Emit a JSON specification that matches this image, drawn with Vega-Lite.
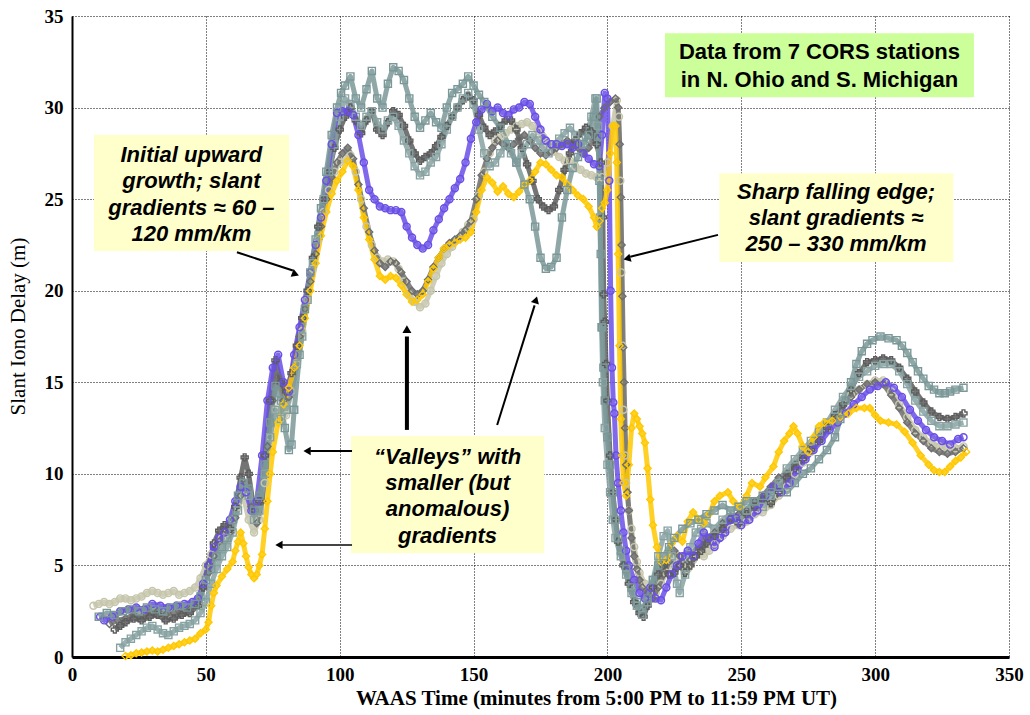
{
"$schema":"https://vega.github.io/schema/vega-lite/v6.json",
"autosize":{"type":"none"},
"padding":{"left":72,"top":16,"right":21,"bottom":58},
"width":937,"height":641,
"background":"white",
"config":{"view":{"stroke":null}},
"datasets":{"iono":[
{"s":"K","t":8,"v":2.8},{"s":"K","t":10,"v":2.9},{"s":"K","t":12,"v":3.0},{"s":"K","t":14,"v":2.9},{"s":"K","t":16,"v":3.0},{"s":"K","t":18,"v":3.2},{"s":"K","t":20,"v":3.2},{"s":"K","t":22,"v":3.1},{"s":"K","t":24,"v":3.2},{"s":"K","t":26,"v":3.3},{"s":"K","t":28,"v":3.5},{"s":"K","t":30,"v":3.6},{"s":"K","t":32,"v":3.5},{"s":"K","t":34,"v":3.4},{"s":"K","t":36,"v":3.5},{"s":"K","t":38,"v":3.6},{"s":"K","t":40,"v":3.4},{"s":"K","t":42,"v":3.5},{"s":"K","t":44,"v":3.6},{"s":"K","t":46,"v":3.8},{"s":"K","t":48,"v":4.3},{"s":"K","t":50,"v":5.0},{"s":"K","t":52,"v":5.6},{"s":"K","t":54,"v":6.2},{"s":"K","t":56,"v":6.5},{"s":"K","t":58,"v":6.8},{"s":"K","t":60,"v":7.5},{"s":"K","t":62,"v":8.2},{"s":"K","t":64,"v":8.8},{"s":"K","t":66,"v":7.5},{"s":"K","t":68,"v":6.8},{"s":"K","t":70,"v":7.5},{"s":"K","t":72,"v":9.5},{"s":"K","t":74,"v":12.0},{"s":"K","t":76,"v":13.5},{"s":"K","t":78,"v":13.0},{"s":"K","t":80,"v":13.2},{"s":"K","t":82,"v":14.5},{"s":"K","t":84,"v":16.0},{"s":"K","t":86,"v":17.8},{"s":"K","t":88,"v":19.5},{"s":"K","t":90,"v":21.2},{"s":"K","t":92,"v":22.8},{"s":"K","t":94,"v":24.3},{"s":"K","t":96,"v":25.5},{"s":"K","t":98,"v":26.5},{"s":"K","t":100,"v":27.0},{"s":"K","t":102,"v":27.2},{"s":"K","t":104,"v":27.4},{"s":"K","t":106,"v":26.5},{"s":"K","t":108,"v":25.0},{"s":"K","t":110,"v":23.5},{"s":"K","t":112,"v":22.5},{"s":"K","t":114,"v":21.8},{"s":"K","t":116,"v":21.6},{"s":"K","t":118,"v":21.7},{"s":"K","t":120,"v":21.6},{"s":"K","t":122,"v":21.2},{"s":"K","t":124,"v":20.5},{"s":"K","t":126,"v":19.8},{"s":"K","t":128,"v":19.4},{"s":"K","t":130,"v":19.1},{"s":"K","t":132,"v":19.3},{"s":"K","t":134,"v":20.0},{"s":"K","t":136,"v":20.8},{"s":"K","t":138,"v":21.5},{"s":"K","t":140,"v":22.0},{"s":"K","t":142,"v":22.4},{"s":"K","t":144,"v":22.8},{"s":"K","t":146,"v":23.2},{"s":"K","t":148,"v":23.6},{"s":"K","t":150,"v":23.9},{"s":"K","t":152,"v":25.2},{"s":"K","t":154,"v":26.5},{"s":"K","t":156,"v":27.5},{"s":"K","t":158,"v":28.2},{"s":"K","t":160,"v":28.4},{"s":"K","t":162,"v":28.6},{"s":"K","t":164,"v":28.8},{"s":"K","t":166,"v":29.0},{"s":"K","t":168,"v":29.1},{"s":"K","t":170,"v":29.2},{"s":"K","t":172,"v":29.0},{"s":"K","t":174,"v":28.7},{"s":"K","t":176,"v":28.4},{"s":"K","t":178,"v":28.0},{"s":"K","t":180,"v":27.6},{"s":"K","t":182,"v":27.3},{"s":"K","t":184,"v":27.1},{"s":"K","t":186,"v":27.1},{"s":"K","t":188,"v":26.8},{"s":"K","t":190,"v":26.6},{"s":"K","t":192,"v":26.4},{"s":"K","t":194,"v":26.3},{"s":"K","t":196,"v":26.2},{"s":"K","t":198,"v":26.2},{"s":"K","t":200,"v":27.0},{"s":"K","t":202,"v":29.0},{"s":"K","t":203.5,"v":30.4},{"s":"K","t":204.3,"v":29.5},{"s":"K","t":204.8,"v":26},{"s":"K","t":205.2,"v":21},{"s":"K","t":205.6,"v":17},{"s":"K","t":206,"v":13.5},{"s":"K","t":206.5,"v":11},{"s":"K","t":207,"v":9.5},{"s":"K","t":208,"v":8.0},{"s":"K","t":209,"v":7.0},{"s":"K","t":210,"v":6.0},{"s":"K","t":211,"v":5.2},{"s":"K","t":212,"v":4.6},{"s":"K","t":214,"v":4.0},{"s":"K","t":216,"v":3.8},{"s":"K","t":218,"v":3.5},{"s":"K","t":220,"v":4.0},{"s":"K","t":222,"v":4.6},{"s":"K","t":224,"v":5.2},{"s":"K","t":226,"v":5.5},{"s":"K","t":228,"v":5.0},{"s":"K","t":230,"v":4.8},{"s":"K","t":232,"v":5.3},{"s":"K","t":234,"v":5.6},{"s":"K","t":236,"v":5.5},{"s":"K","t":238,"v":5.8},{"s":"K","t":240,"v":6.2},{"s":"K","t":243,"v":6.6},{"s":"K","t":246,"v":7.0},{"s":"K","t":249,"v":7.2},{"s":"K","t":252,"v":7.4},{"s":"K","t":255,"v":7.8},{"s":"K","t":258,"v":7.9},{"s":"K","t":261,"v":8.3},{"s":"K","t":264,"v":8.8},{"s":"K","t":267,"v":9.3},{"s":"K","t":270,"v":10.0},{"s":"K","t":273,"v":10.6},{"s":"K","t":276,"v":11.2},{"s":"K","t":279,"v":11.8},{"s":"K","t":282,"v":12.5},{"s":"K","t":285,"v":13.2},{"s":"K","t":288,"v":13.8},{"s":"K","t":291,"v":14.3},{"s":"K","t":294,"v":14.6},{"s":"K","t":297,"v":14.9},{"s":"K","t":300,"v":15.1},{"s":"K","t":303,"v":15.1},{"s":"K","t":306,"v":14.5},{"s":"K","t":309,"v":13.8},{"s":"K","t":312,"v":13.1},{"s":"K","t":315,"v":12.4},{"s":"K","t":318,"v":12.0},{"s":"K","t":321,"v":11.7},{"s":"K","t":324,"v":11.5},{"s":"K","t":327,"v":11.4},{"s":"K","t":330,"v":11.4},{"s":"K","t":333,"v":11.5},

{"s":"D2","t":14,"v":1.8},{"s":"D2","t":17,"v":2.0},{"s":"D2","t":20,"v":2.1},{"s":"D2","t":23,"v":2.3},{"s":"D2","t":26,"v":2.2},{"s":"D2","t":29,"v":2.4},{"s":"D2","t":32,"v":2.5},{"s":"D2","t":35,"v":2.3},{"s":"D2","t":38,"v":2.4},{"s":"D2","t":41,"v":2.5},{"s":"D2","t":44,"v":2.6},{"s":"D2","t":47,"v":3.0},{"s":"D2","t":49,"v":3.8},{"s":"D2","t":51,"v":4.6},{"s":"D2","t":53,"v":5.5},{"s":"D2","t":55,"v":6.3},{"s":"D2","t":57,"v":7.0},{"s":"D2","t":59,"v":6.8},{"s":"D2","t":61,"v":7.6},{"s":"D2","t":63,"v":8.8},{"s":"D2","t":65,"v":9.5},{"s":"D2","t":67,"v":8.2},{"s":"D2","t":69,"v":7.3},{"s":"D2","t":71,"v":8.5},{"s":"D2","t":73,"v":11.5},{"s":"D2","t":75,"v":14.0},{"s":"D2","t":77,"v":15.3},{"s":"D2","t":79,"v":14.0},{"s":"D2","t":81,"v":14.2},{"s":"D2","t":83,"v":15.8},{"s":"D2","t":85,"v":17.5},{"s":"D2","t":87,"v":19.0},{"s":"D2","t":89,"v":20.5},{"s":"D2","t":91,"v":22.0},{"s":"D2","t":93,"v":23.5},{"s":"D2","t":95,"v":25.0},{"s":"D2","t":97,"v":26.2},{"s":"D2","t":99,"v":27.0},{"s":"D2","t":101,"v":27.5},{"s":"D2","t":103,"v":27.8},{"s":"D2","t":105,"v":27.2},{"s":"D2","t":107,"v":25.8},{"s":"D2","t":109,"v":24.5},{"s":"D2","t":111,"v":23.2},{"s":"D2","t":113,"v":22.2},{"s":"D2","t":115,"v":21.5},{"s":"D2","t":117,"v":21.3},{"s":"D2","t":119,"v":21.6},{"s":"D2","t":121,"v":21.5},{"s":"D2","t":123,"v":21.0},{"s":"D2","t":125,"v":20.5},{"s":"D2","t":127,"v":20.0},{"s":"D2","t":129,"v":19.8},{"s":"D2","t":131,"v":20.0},{"s":"D2","t":133,"v":20.6},{"s":"D2","t":135,"v":21.3},{"s":"D2","t":137,"v":21.8},{"s":"D2","t":139,"v":22.3},{"s":"D2","t":141,"v":22.6},{"s":"D2","t":143,"v":22.8},{"s":"D2","t":145,"v":23.0},{"s":"D2","t":147,"v":23.3},{"s":"D2","t":149,"v":23.8},{"s":"D2","t":151,"v":25.0},{"s":"D2","t":153,"v":26.3},{"s":"D2","t":155,"v":27.2},{"s":"D2","t":157,"v":27.8},{"s":"D2","t":159,"v":28.2},{"s":"D2","t":161,"v":28.0},{"s":"D2","t":163,"v":27.8},{"s":"D2","t":165,"v":28.0},{"s":"D2","t":167,"v":28.3},{"s":"D2","t":169,"v":28.5},{"s":"D2","t":171,"v":28.2},{"s":"D2","t":173,"v":27.8},{"s":"D2","t":175,"v":27.5},{"s":"D2","t":177,"v":27.4},{"s":"D2","t":179,"v":27.6},{"s":"D2","t":181,"v":27.8},{"s":"D2","t":183,"v":28.0},{"s":"D2","t":185,"v":28.2},{"s":"D2","t":187,"v":28.0},{"s":"D2","t":189,"v":27.8},{"s":"D2","t":191,"v":27.5},{"s":"D2","t":193,"v":27.8},{"s":"D2","t":195,"v":28.5},{"s":"D2","t":197,"v":29.5},{"s":"D2","t":199,"v":30.0},{"s":"D2","t":201,"v":30.3},{"s":"D2","t":203,"v":30.5},{"s":"D2","t":204,"v":30.0},{"s":"D2","t":204.6,"v":28},{"s":"D2","t":205,"v":25.1},{"s":"D2","t":205.3,"v":22.5},{"s":"D2","t":205.6,"v":19.7},{"s":"D2","t":205.9,"v":16.9},{"s":"D2","t":206.2,"v":15.0},{"s":"D2","t":206.6,"v":12.5},{"s":"D2","t":207,"v":10.5},{"s":"D2","t":207.5,"v":9.0},{"s":"D2","t":208,"v":8.0},{"s":"D2","t":209,"v":6.5},{"s":"D2","t":210,"v":5.5},{"s":"D2","t":211,"v":4.8},{"s":"D2","t":212,"v":4.2},{"s":"D2","t":213,"v":3.8},{"s":"D2","t":215,"v":3.5},{"s":"D2","t":217,"v":3.2},{"s":"D2","t":219,"v":3.8},{"s":"D2","t":221,"v":4.5},{"s":"D2","t":223,"v":5.2},{"s":"D2","t":225,"v":5.8},{"s":"D2","t":227,"v":5.5},{"s":"D2","t":229,"v":5.0},{"s":"D2","t":231,"v":5.3},{"s":"D2","t":233,"v":5.8},{"s":"D2","t":235,"v":6.0},{"s":"D2","t":237,"v":6.5},{"s":"D2","t":240,"v":6.8},{"s":"D2","t":243,"v":7.3},{"s":"D2","t":246,"v":7.6},{"s":"D2","t":249,"v":7.8},{"s":"D2","t":252,"v":8.0},{"s":"D2","t":255,"v":8.5},{"s":"D2","t":258,"v":8.8},{"s":"D2","t":261,"v":9.3},{"s":"D2","t":264,"v":9.8},{"s":"D2","t":267,"v":10.0},{"s":"D2","t":270,"v":10.5},{"s":"D2","t":273,"v":11.0},{"s":"D2","t":276,"v":11.5},{"s":"D2","t":279,"v":12.0},{"s":"D2","t":282,"v":12.6},{"s":"D2","t":285,"v":13.2},{"s":"D2","t":288,"v":13.7},{"s":"D2","t":291,"v":14.2},{"s":"D2","t":294,"v":14.6},{"s":"D2","t":297,"v":14.9},{"s":"D2","t":300,"v":15.0},{"s":"D2","t":303,"v":14.9},{"s":"D2","t":306,"v":14.3},{"s":"D2","t":309,"v":13.6},{"s":"D2","t":312,"v":12.8},{"s":"D2","t":315,"v":12.2},{"s":"D2","t":318,"v":11.8},{"s":"D2","t":321,"v":11.4},{"s":"D2","t":324,"v":11.2},{"s":"D2","t":327,"v":11.1},{"s":"D2","t":330,"v":11.2},{"s":"D2","t":333,"v":11.4},

{"s":"D1","t":16,"v":1.5},{"s":"D1","t":18,"v":1.7},{"s":"D1","t":20,"v":1.9},{"s":"D1","t":23,"v":2.1},{"s":"D1","t":26,"v":2.0},{"s":"D1","t":29,"v":2.2},{"s":"D1","t":32,"v":2.3},{"s":"D1","t":35,"v":2.0},{"s":"D1","t":38,"v":2.1},{"s":"D1","t":41,"v":2.3},{"s":"D1","t":44,"v":2.4},{"s":"D1","t":47,"v":2.8},{"s":"D1","t":49,"v":3.8},{"s":"D1","t":51,"v":5.0},{"s":"D1","t":53,"v":6.2},{"s":"D1","t":55,"v":6.9},{"s":"D1","t":57,"v":7.2},{"s":"D1","t":59,"v":7.0},{"s":"D1","t":61,"v":8.2},{"s":"D1","t":63,"v":9.8},{"s":"D1","t":64.5,"v":10.9},{"s":"D1","t":66,"v":10.0},{"s":"D1","t":68,"v":8.0},{"s":"D1","t":70,"v":8.5},{"s":"D1","t":72,"v":11.0},{"s":"D1","t":74,"v":14.0},{"s":"D1","t":76,"v":16.2},{"s":"D1","t":78,"v":15.0},{"s":"D1","t":80,"v":14.5},{"s":"D1","t":82,"v":15.5},{"s":"D1","t":84,"v":17.0},{"s":"D1","t":86,"v":18.5},{"s":"D1","t":88,"v":20.0},{"s":"D1","t":90,"v":21.8},{"s":"D1","t":92,"v":23.5},{"s":"D1","t":94,"v":25.0},{"s":"D1","t":96,"v":26.5},{"s":"D1","t":98,"v":27.8},{"s":"D1","t":100,"v":28.8},{"s":"D1","t":102,"v":29.5},{"s":"D1","t":104,"v":30.0},{"s":"D1","t":106,"v":29.3},{"s":"D1","t":108,"v":28.6},{"s":"D1","t":110,"v":29.3},{"s":"D1","t":112,"v":29.8},{"s":"D1","t":114,"v":28.8},{"s":"D1","t":116,"v":28.5},{"s":"D1","t":118,"v":29.2},{"s":"D1","t":120,"v":29.8},{"s":"D1","t":122,"v":29.6},{"s":"D1","t":124,"v":29.0},{"s":"D1","t":126,"v":28.2},{"s":"D1","t":128,"v":27.5},{"s":"D1","t":130,"v":27.1},{"s":"D1","t":132,"v":27.3},{"s":"D1","t":134,"v":27.5},{"s":"D1","t":136,"v":27.9},{"s":"D1","t":138,"v":28.4},{"s":"D1","t":140,"v":29.0},{"s":"D1","t":142,"v":29.5},{"s":"D1","t":144,"v":30.0},{"s":"D1","t":146,"v":30.4},{"s":"D1","t":148,"v":30.6},{"s":"D1","t":150,"v":30.4},{"s":"D1","t":152,"v":29.6},{"s":"D1","t":154,"v":28.9},{"s":"D1","t":156,"v":28.5},{"s":"D1","t":158,"v":28.7},{"s":"D1","t":160,"v":29.0},{"s":"D1","t":162,"v":29.3},{"s":"D1","t":164,"v":29.3},{"s":"D1","t":166,"v":28.8},{"s":"D1","t":168,"v":27.8},{"s":"D1","t":170,"v":26.9},{"s":"D1","t":172,"v":26.0},{"s":"D1","t":174,"v":25.0},{"s":"D1","t":176,"v":24.6},{"s":"D1","t":178,"v":24.4},{"s":"D1","t":180,"v":24.6},{"s":"D1","t":182,"v":25.5},{"s":"D1","t":184,"v":26.6},{"s":"D1","t":186,"v":27.5},{"s":"D1","t":188,"v":28.2},{"s":"D1","t":190,"v":28.6},{"s":"D1","t":192,"v":28.9},{"s":"D1","t":194,"v":28.7},{"s":"D1","t":196,"v":28.0},{"s":"D1","t":197.5,"v":27.0},{"s":"D1","t":198.3,"v":24},{"s":"D1","t":198.6,"v":19.8},{"s":"D1","t":199,"v":18.3},{"s":"D1","t":199.5,"v":16},{"s":"D1","t":200,"v":14},{"s":"D1","t":201,"v":11},{"s":"D1","t":202,"v":9},{"s":"D1","t":203,"v":7.5},{"s":"D1","t":204,"v":6.3},{"s":"D1","t":206,"v":5.0},{"s":"D1","t":208,"v":4.0},{"s":"D1","t":210,"v":3.0},{"s":"D1","t":212,"v":2.4},{"s":"D1","t":213.5,"v":2.2},{"s":"D1","t":215,"v":2.8},{"s":"D1","t":217,"v":3.8},{"s":"D1","t":219,"v":4.5},{"s":"D1","t":221,"v":5.0},{"s":"D1","t":223,"v":4.5},{"s":"D1","t":225,"v":4.6},{"s":"D1","t":227,"v":5.0},{"s":"D1","t":229,"v":4.6},{"s":"D1","t":231,"v":5.0},{"s":"D1","t":233,"v":5.5},{"s":"D1","t":235,"v":5.8},{"s":"D1","t":237,"v":6.2},{"s":"D1","t":240,"v":6.6},{"s":"D1","t":243,"v":7.0},{"s":"D1","t":246,"v":7.5},{"s":"D1","t":249,"v":7.3},{"s":"D1","t":252,"v":7.8},{"s":"D1","t":255,"v":8.2},{"s":"D1","t":258,"v":8.6},{"s":"D1","t":261,"v":8.4},{"s":"D1","t":264,"v":9.0},{"s":"D1","t":267,"v":9.8},{"s":"D1","t":270,"v":10.3},{"s":"D1","t":273,"v":10.8},{"s":"D1","t":276,"v":11.3},{"s":"D1","t":279,"v":11.8},{"s":"D1","t":282,"v":12.5},{"s":"D1","t":285,"v":13.2},{"s":"D1","t":288,"v":13.8},{"s":"D1","t":291,"v":14.6},{"s":"D1","t":294,"v":15.5},{"s":"D1","t":297,"v":16.1},{"s":"D1","t":300,"v":16.2},{"s":"D1","t":303,"v":16.3},{"s":"D1","t":306,"v":16.2},{"s":"D1","t":309,"v":15.8},{"s":"D1","t":312,"v":15.2},{"s":"D1","t":315,"v":14.5},{"s":"D1","t":318,"v":13.9},{"s":"D1","t":321,"v":13.4},{"s":"D1","t":324,"v":13.1},{"s":"D1","t":327,"v":13.0},{"s":"D1","t":330,"v":13.1},{"s":"D1","t":333,"v":13.3},

{"s":"T2","t":18,"v":0.5},{"s":"T2","t":20,"v":0.8},{"s":"T2","t":22,"v":1.0},{"s":"T2","t":24,"v":1.2},{"s":"T2","t":26,"v":1.4},{"s":"T2","t":28,"v":1.6},{"s":"T2","t":30,"v":1.7},{"s":"T2","t":32,"v":1.5},{"s":"T2","t":34,"v":1.3},{"s":"T2","t":36,"v":1.2},{"s":"T2","t":38,"v":1.4},{"s":"T2","t":40,"v":1.6},{"s":"T2","t":42,"v":1.7},{"s":"T2","t":44,"v":1.8},{"s":"T2","t":46,"v":2.0},{"s":"T2","t":48,"v":2.4},{"s":"T2","t":50,"v":3.0},{"s":"T2","t":52,"v":4.0},{"s":"T2","t":54,"v":4.8},{"s":"T2","t":56,"v":5.5},{"s":"T2","t":58,"v":6.0},{"s":"T2","t":60,"v":6.8},{"s":"T2","t":62,"v":8.0},{"s":"T2","t":64,"v":9.5},{"s":"T2","t":66,"v":8.8},{"s":"T2","t":68,"v":7.5},{"s":"T2","t":70,"v":8.0},{"s":"T2","t":72,"v":10.0},{"s":"T2","t":74,"v":12.0},{"s":"T2","t":76,"v":13.5},{"s":"T2","t":78,"v":13.0},{"s":"T2","t":80,"v":13.5},{"s":"T2","t":82,"v":14.5},{"s":"T2","t":84,"v":16.0},{"s":"T2","t":86,"v":17.5},{"s":"T2","t":88,"v":19.5},{"s":"T2","t":90,"v":21.5},{"s":"T2","t":92,"v":23.0},{"s":"T2","t":94,"v":25.0},{"s":"T2","t":96,"v":26.5},{"s":"T2","t":98,"v":28.0},{"s":"T2","t":100,"v":29.5},{"s":"T2","t":102,"v":30.5},{"s":"T2","t":104,"v":30.2},{"s":"T2","t":106,"v":29.5},{"s":"T2","t":108,"v":29.0},{"s":"T2","t":110,"v":29.5},{"s":"T2","t":112,"v":29.8},{"s":"T2","t":114,"v":29.2},{"s":"T2","t":116,"v":28.8},{"s":"T2","t":118,"v":29.3},{"s":"T2","t":120,"v":29.5},{"s":"T2","t":122,"v":29.0},{"s":"T2","t":124,"v":28.2},{"s":"T2","t":126,"v":27.5},{"s":"T2","t":128,"v":26.8},{"s":"T2","t":130,"v":26.3},{"s":"T2","t":132,"v":26.5},{"s":"T2","t":134,"v":27.0},{"s":"T2","t":136,"v":27.3},{"s":"T2","t":138,"v":28.0},{"s":"T2","t":140,"v":28.8},{"s":"T2","t":142,"v":29.5},{"s":"T2","t":144,"v":30.0},{"s":"T2","t":146,"v":30.5},{"s":"T2","t":148,"v":30.8},{"s":"T2","t":150,"v":30.2},{"s":"T2","t":152,"v":28.8},{"s":"T2","t":154,"v":27.5},{"s":"T2","t":156,"v":26.8},{"s":"T2","t":158,"v":27.0},{"s":"T2","t":160,"v":27.5},{"s":"T2","t":162,"v":28.0},{"s":"T2","t":164,"v":27.5},{"s":"T2","t":166,"v":27.0},{"s":"T2","t":168,"v":27.5},{"s":"T2","t":170,"v":28.0},{"s":"T2","t":172,"v":28.5},{"s":"T2","t":174,"v":28.2},{"s":"T2","t":176,"v":27.8},{"s":"T2","t":178,"v":27.5},{"s":"T2","t":180,"v":28.0},{"s":"T2","t":182,"v":28.3},{"s":"T2","t":184,"v":28.6},{"s":"T2","t":186,"v":28.9},{"s":"T2","t":188,"v":28.5},{"s":"T2","t":190,"v":28.0},{"s":"T2","t":192,"v":28.3},{"s":"T2","t":194,"v":29.5},{"s":"T2","t":195.5,"v":30.5},{"s":"T2","t":196.5,"v":29.0},{"s":"T2","t":197.2,"v":24},{"s":"T2","t":197.8,"v":18.0},{"s":"T2","t":198.3,"v":15.0},{"s":"T2","t":199,"v":12.5},{"s":"T2","t":200,"v":10.5},{"s":"T2","t":201,"v":9.0},{"s":"T2","t":202,"v":7.5},{"s":"T2","t":203,"v":6.5},{"s":"T2","t":205,"v":5.5},{"s":"T2","t":207,"v":4.5},{"s":"T2","t":209,"v":3.5},{"s":"T2","t":211,"v":2.8},{"s":"T2","t":213,"v":2.3},{"s":"T2","t":215,"v":3.0},{"s":"T2","t":217,"v":4.2},{"s":"T2","t":219,"v":5.5},{"s":"T2","t":221,"v":6.6},{"s":"T2","t":222.5,"v":6.9},{"s":"T2","t":224,"v":5.5},{"s":"T2","t":226,"v":4.0},{"s":"T2","t":227,"v":3.5},{"s":"T2","t":229,"v":4.5},{"s":"T2","t":231,"v":6.0},{"s":"T2","t":233,"v":6.8},{"s":"T2","t":235,"v":7.0},{"s":"T2","t":237,"v":7.3},{"s":"T2","t":240,"v":7.0},{"s":"T2","t":243,"v":7.5},{"s":"T2","t":246,"v":7.8},{"s":"T2","t":249,"v":7.5},{"s":"T2","t":252,"v":8.0},{"s":"T2","t":255,"v":8.5},{"s":"T2","t":258,"v":8.2},{"s":"T2","t":261,"v":8.8},{"s":"T2","t":264,"v":9.5},{"s":"T2","t":267,"v":10.3},{"s":"T2","t":270,"v":10.8},{"s":"T2","t":273,"v":11.3},{"s":"T2","t":276,"v":11.8},{"s":"T2","t":279,"v":12.3},{"s":"T2","t":282,"v":12.8},{"s":"T2","t":285,"v":13.5},{"s":"T2","t":288,"v":14.2},{"s":"T2","t":291,"v":14.8},{"s":"T2","t":294,"v":15.3},{"s":"T2","t":297,"v":15.6},{"s":"T2","t":300,"v":15.9},{"s":"T2","t":303,"v":16.0},{"s":"T2","t":306,"v":16.0},{"s":"T2","t":309,"v":15.6},{"s":"T2","t":312,"v":14.9},{"s":"T2","t":315,"v":14.0},{"s":"T2","t":318,"v":13.4},{"s":"T2","t":321,"v":12.9},{"s":"T2","t":324,"v":12.6},{"s":"T2","t":327,"v":12.6},{"s":"T2","t":330,"v":12.7},{"s":"T2","t":333,"v":12.8},

{"s":"P","t":10.5,"v":2.2},{"s":"P","t":12,"v":2.0},{"s":"P","t":15,"v":2.2},{"s":"P","t":18,"v":2.5},{"s":"P","t":21,"v":2.6},{"s":"P","t":24,"v":2.7},{"s":"P","t":27,"v":2.6},{"s":"P","t":30,"v":2.9},{"s":"P","t":33,"v":2.8},{"s":"P","t":36,"v":2.7},{"s":"P","t":39,"v":2.8},{"s":"P","t":42,"v":2.9},{"s":"P","t":45,"v":3.0},{"s":"P","t":47,"v":3.2},{"s":"P","t":49,"v":4.0},{"s":"P","t":51,"v":5.0},{"s":"P","t":53,"v":6.0},{"s":"P","t":55,"v":6.5},{"s":"P","t":57,"v":6.8},{"s":"P","t":59,"v":7.5},{"s":"P","t":61,"v":8.5},{"s":"P","t":63,"v":9.3},{"s":"P","t":65,"v":9.0},{"s":"P","t":67,"v":8.0},{"s":"P","t":69,"v":8.5},{"s":"P","t":71,"v":11.0},{"s":"P","t":73,"v":14.0},{"s":"P","t":75,"v":15.8},{"s":"P","t":77,"v":16.5},{"s":"P","t":79,"v":15.0},{"s":"P","t":81,"v":14.5},{"s":"P","t":83,"v":16.5},{"s":"P","t":85,"v":18.0},{"s":"P","t":87,"v":19.5},{"s":"P","t":89,"v":21.0},{"s":"P","t":91,"v":22.5},{"s":"P","t":93,"v":24.0},{"s":"P","t":95,"v":26.0},{"s":"P","t":97,"v":28.0},{"s":"P","t":99,"v":29.7},{"s":"P","t":101,"v":29.8},{"s":"P","t":103,"v":29.8},{"s":"P","t":105,"v":29.6},{"s":"P","t":107,"v":28.5},{"s":"P","t":109,"v":27.0},{"s":"P","t":111,"v":25.5},{"s":"P","t":113,"v":25.0},{"s":"P","t":115,"v":24.6},{"s":"P","t":117,"v":24.5},{"s":"P","t":119,"v":24.4},{"s":"P","t":121,"v":24.4},{"s":"P","t":123,"v":24.3},{"s":"P","t":125,"v":23.5},{"s":"P","t":127,"v":22.9},{"s":"P","t":129,"v":22.5},{"s":"P","t":131,"v":22.3},{"s":"P","t":133,"v":22.5},{"s":"P","t":135,"v":23.3},{"s":"P","t":137,"v":23.9},{"s":"P","t":139,"v":24.5},{"s":"P","t":141,"v":25.0},{"s":"P","t":143,"v":25.6},{"s":"P","t":145,"v":26.1},{"s":"P","t":147,"v":27.0},{"s":"P","t":149,"v":28.3},{"s":"P","t":151,"v":29.2},{"s":"P","t":153,"v":29.9},{"s":"P","t":155,"v":30.2},{"s":"P","t":157,"v":29.8},{"s":"P","t":159,"v":30.0},{"s":"P","t":161,"v":29.7},{"s":"P","t":163,"v":29.6},{"s":"P","t":165,"v":29.9},{"s":"P","t":167,"v":30.0},{"s":"P","t":169,"v":30.3},{"s":"P","t":171,"v":30.2},{"s":"P","t":173,"v":29.5},{"s":"P","t":175,"v":28.8},{"s":"P","t":177,"v":28.2},{"s":"P","t":179,"v":28.0},{"s":"P","t":181,"v":28.0},{"s":"P","t":183,"v":27.9},{"s":"P","t":185,"v":28.0},{"s":"P","t":187,"v":27.8},{"s":"P","t":189,"v":28.0},{"s":"P","t":191,"v":27.5},{"s":"P","t":193,"v":27.2},{"s":"P","t":195,"v":26.9},{"s":"P","t":197,"v":26.8},{"s":"P","t":198,"v":28.5},{"s":"P","t":199,"v":30.8},{"s":"P","t":200,"v":30.5},{"s":"P","t":200.7,"v":26},{"s":"P","t":201.2,"v":20},{"s":"P","t":201.7,"v":15.8},{"s":"P","t":202.2,"v":13.9},{"s":"P","t":202.6,"v":13.3},{"s":"P","t":203.2,"v":11},{"s":"P","t":204,"v":9.5},{"s":"P","t":205,"v":8},{"s":"P","t":206,"v":6.8},{"s":"P","t":207,"v":5.8},{"s":"P","t":208,"v":5.0},{"s":"P","t":210,"v":4.2},{"s":"P","t":212,"v":3.5},{"s":"P","t":214,"v":3.2},{"s":"P","t":216,"v":3.8},{"s":"P","t":218,"v":3.2},{"s":"P","t":220,"v":3.1},{"s":"P","t":222,"v":3.8},{"s":"P","t":224,"v":4.5},{"s":"P","t":226,"v":5.0},{"s":"P","t":228,"v":5.5},{"s":"P","t":230,"v":5.8},{"s":"P","t":232,"v":5.5},{"s":"P","t":234,"v":6.2},{"s":"P","t":236,"v":6.8},{"s":"P","t":238,"v":6.5},{"s":"P","t":240,"v":6.0},{"s":"P","t":242,"v":6.5},{"s":"P","t":244,"v":6.8},{"s":"P","t":246,"v":7.5},{"s":"P","t":248,"v":7.6},{"s":"P","t":250,"v":7.2},{"s":"P","t":253,"v":7.5},{"s":"P","t":256,"v":8.0},{"s":"P","t":259,"v":8.8},{"s":"P","t":262,"v":9.3},{"s":"P","t":265,"v":9.0},{"s":"P","t":268,"v":9.5},{"s":"P","t":271,"v":10.2},{"s":"P","t":274,"v":10.8},{"s":"P","t":277,"v":11.3},{"s":"P","t":280,"v":11.8},{"s":"P","t":283,"v":12.4},{"s":"P","t":286,"v":12.8},{"s":"P","t":289,"v":13.3},{"s":"P","t":292,"v":13.8},{"s":"P","t":295,"v":14.2},{"s":"P","t":298,"v":14.6},{"s":"P","t":301,"v":14.8},{"s":"P","t":304,"v":15.0},{"s":"P","t":307,"v":14.7},{"s":"P","t":310,"v":14.2},{"s":"P","t":313,"v":13.5},{"s":"P","t":316,"v":12.9},{"s":"P","t":319,"v":12.4},{"s":"P","t":322,"v":12.0},{"s":"P","t":325,"v":11.8},{"s":"P","t":328,"v":11.6},{"s":"P","t":331,"v":11.9},{"s":"P","t":333,"v":12.0},

{"s":"Y","t":20,"v":0.05},{"s":"Y","t":22,"v":0.1},{"s":"Y","t":24,"v":0.2},{"s":"Y","t":26,"v":0.25},{"s":"Y","t":28,"v":0.3},{"s":"Y","t":30,"v":0.35},{"s":"Y","t":32,"v":0.3},{"s":"Y","t":34,"v":0.4},{"s":"Y","t":36,"v":0.5},{"s":"Y","t":38,"v":0.6},{"s":"Y","t":40,"v":0.7},{"s":"Y","t":42,"v":0.8},{"s":"Y","t":44,"v":0.9},{"s":"Y","t":46,"v":1.0},{"s":"Y","t":48,"v":1.3},{"s":"Y","t":50,"v":1.5},{"s":"Y","t":51,"v":1.9},{"s":"Y","t":52,"v":2.8},{"s":"Y","t":53,"v":3.5},{"s":"Y","t":54,"v":3.9},{"s":"Y","t":56,"v":4.4},{"s":"Y","t":58,"v":4.8},{"s":"Y","t":60,"v":5.2},{"s":"Y","t":61,"v":5.8},{"s":"Y","t":62,"v":6.3},{"s":"Y","t":63,"v":6.8},{"s":"Y","t":64,"v":6.2},{"s":"Y","t":65,"v":5.5},{"s":"Y","t":66,"v":4.9},{"s":"Y","t":67,"v":4.5},{"s":"Y","t":68,"v":4.3},{"s":"Y","t":69,"v":4.5},{"s":"Y","t":70,"v":5.0},{"s":"Y","t":71,"v":5.6},{"s":"Y","t":72,"v":7.0},{"s":"Y","t":73,"v":8.5},{"s":"Y","t":74,"v":10.0},{"s":"Y","t":75,"v":11.2},{"s":"Y","t":77,"v":12.8},{"s":"Y","t":79,"v":13.8},{"s":"Y","t":81,"v":14.7},{"s":"Y","t":83,"v":15.8},{"s":"Y","t":85,"v":17.0},{"s":"Y","t":87,"v":18.5},{"s":"Y","t":89,"v":20.0},{"s":"Y","t":91,"v":21.5},{"s":"Y","t":93,"v":23.0},{"s":"Y","t":95,"v":24.3},{"s":"Y","t":97,"v":25.3},{"s":"Y","t":99,"v":26.0},{"s":"Y","t":101,"v":26.5},{"s":"Y","t":103,"v":27.1},{"s":"Y","t":105,"v":26.8},{"s":"Y","t":107,"v":25.5},{"s":"Y","t":109,"v":24.0},{"s":"Y","t":111,"v":22.8},{"s":"Y","t":113,"v":21.7},{"s":"Y","t":115,"v":20.8},{"s":"Y","t":117,"v":20.6},{"s":"Y","t":119,"v":20.8},{"s":"Y","t":121,"v":20.7},{"s":"Y","t":123,"v":20.3},{"s":"Y","t":125,"v":19.8},{"s":"Y","t":127,"v":19.4},{"s":"Y","t":129,"v":19.5},{"s":"Y","t":131,"v":19.8},{"s":"Y","t":133,"v":20.5},{"s":"Y","t":135,"v":21.2},{"s":"Y","t":137,"v":21.8},{"s":"Y","t":139,"v":22.3},{"s":"Y","t":141,"v":22.5},{"s":"Y","t":143,"v":22.6},{"s":"Y","t":145,"v":22.8},{"s":"Y","t":147,"v":22.9},{"s":"Y","t":149,"v":23.2},{"s":"Y","t":151,"v":24.3},{"s":"Y","t":153,"v":25.5},{"s":"Y","t":155,"v":26.2},{"s":"Y","t":157,"v":25.9},{"s":"Y","t":159,"v":25.4},{"s":"Y","t":161,"v":25.7},{"s":"Y","t":163,"v":25.3},{"s":"Y","t":165,"v":25.1},{"s":"Y","t":167,"v":25.4},{"s":"Y","t":169,"v":25.8},{"s":"Y","t":171,"v":26.0},{"s":"Y","t":173,"v":26.5},{"s":"Y","t":175,"v":27.0},{"s":"Y","t":177,"v":26.9},{"s":"Y","t":179,"v":26.6},{"s":"Y","t":181,"v":26.3},{"s":"Y","t":183,"v":26.2},{"s":"Y","t":185,"v":25.8},{"s":"Y","t":187,"v":25.5},{"s":"Y","t":189,"v":25.2},{"s":"Y","t":191,"v":25.0},{"s":"Y","t":193,"v":24.6},{"s":"Y","t":195,"v":24.0},{"s":"Y","t":196,"v":23.5},{"s":"Y","t":197,"v":23.8},{"s":"Y","t":198,"v":24.5},{"s":"Y","t":199,"v":24.8},{"s":"Y","t":200,"v":25.5},{"s":"Y","t":201,"v":27.5},{"s":"Y","t":202,"v":29.0},{"s":"Y","t":203,"v":29.0},{"s":"Y","t":203.5,"v":27},{"s":"Y","t":204,"v":22},{"s":"Y","t":204.5,"v":17},{"s":"Y","t":205,"v":13},{"s":"Y","t":205.5,"v":11},{"s":"Y","t":206,"v":9.5},{"s":"Y","t":207,"v":8.8},{"s":"Y","t":208,"v":10.5},{"s":"Y","t":209,"v":12.5},{"s":"Y","t":210,"v":13.3},{"s":"Y","t":211,"v":13.0},{"s":"Y","t":212,"v":12.6},{"s":"Y","t":213,"v":12.2},{"s":"Y","t":214,"v":11.7},{"s":"Y","t":215,"v":10.3},{"s":"Y","t":216,"v":8.6},{"s":"Y","t":217,"v":7.2},{"s":"Y","t":218.5,"v":6.0},{"s":"Y","t":220,"v":5.2},{"s":"Y","t":222,"v":5.3},{"s":"Y","t":224,"v":6.2},{"s":"Y","t":226,"v":6.6},{"s":"Y","t":228,"v":6.3},{"s":"Y","t":230,"v":7.4},{"s":"Y","t":232,"v":7.9},{"s":"Y","t":234,"v":7.5},{"s":"Y","t":236,"v":7.3},{"s":"Y","t":238,"v":7.8},{"s":"Y","t":240,"v":8.5},{"s":"Y","t":242,"v":8.8},{"s":"Y","t":245,"v":9.0},{"s":"Y","t":247,"v":8.5},{"s":"Y","t":249.5,"v":8.2},{"s":"Y","t":252,"v":8.8},{"s":"Y","t":254,"v":9.5},{"s":"Y","t":257,"v":9.3},{"s":"Y","t":259,"v":9.8},{"s":"Y","t":262,"v":10.4},{"s":"Y","t":264,"v":11.2},{"s":"Y","t":266,"v":11.8},{"s":"Y","t":268,"v":12.2},{"s":"Y","t":269.5,"v":12.6},{"s":"Y","t":271,"v":12.2},{"s":"Y","t":273,"v":11.5},{"s":"Y","t":275,"v":11.2},{"s":"Y","t":277,"v":12.0},{"s":"Y","t":279,"v":12.6},{"s":"Y","t":281,"v":12.8},{"s":"Y","t":284,"v":12.9},{"s":"Y","t":287,"v":13.1},{"s":"Y","t":290,"v":13.3},{"s":"Y","t":293,"v":13.6},{"s":"Y","t":296,"v":13.6},{"s":"Y","t":298,"v":13.6},{"s":"Y","t":300,"v":13.2},{"s":"Y","t":302,"v":12.9},{"s":"Y","t":305,"v":12.8},{"s":"Y","t":308,"v":12.7},{"s":"Y","t":311,"v":12.3},{"s":"Y","t":314,"v":11.7},{"s":"Y","t":317,"v":11.0},{"s":"Y","t":320,"v":10.5},{"s":"Y","t":322,"v":10.2},{"s":"Y","t":324,"v":10.1},{"s":"Y","t":326,"v":10.1},{"s":"Y","t":328,"v":10.4},{"s":"Y","t":330,"v":10.7},{"s":"Y","t":332,"v":10.9},{"s":"Y","t":334,"v":11.2},

{"s":"T1","t":10,"v":2.2},{"s":"T1","t":13,"v":2.4},{"s":"T1","t":16,"v":2.3},{"s":"T1","t":19,"v":2.5},{"s":"T1","t":22,"v":2.6},{"s":"T1","t":25,"v":2.5},{"s":"T1","t":28,"v":2.7},{"s":"T1","t":31,"v":2.6},{"s":"T1","t":34,"v":2.5},{"s":"T1","t":37,"v":2.7},{"s":"T1","t":40,"v":2.8},{"s":"T1","t":43,"v":2.7},{"s":"T1","t":46,"v":2.9},{"s":"T1","t":48,"v":3.3},{"s":"T1","t":50,"v":4.2},{"s":"T1","t":52,"v":4.8},{"s":"T1","t":54,"v":5.5},{"s":"T1","t":56,"v":6.0},{"s":"T1","t":58,"v":6.5},{"s":"T1","t":60,"v":7.5},{"s":"T1","t":62,"v":8.8},{"s":"T1","t":64,"v":9.5},{"s":"T1","t":66,"v":9.2},{"s":"T1","t":68,"v":8.0},{"s":"T1","t":70,"v":8.8},{"s":"T1","t":72,"v":10.5},{"s":"T1","t":74,"v":12.8},{"s":"T1","t":76,"v":14.8},{"s":"T1","t":78,"v":14.0},{"s":"T1","t":79.5,"v":12.5},{"s":"T1","t":81,"v":11.3},{"s":"T1","t":82,"v":11.6},{"s":"T1","t":83,"v":13.5},{"s":"T1","t":85,"v":16.5},{"s":"T1","t":87,"v":19.0},{"s":"T1","t":89,"v":21.0},{"s":"T1","t":91,"v":22.8},{"s":"T1","t":93,"v":24.5},{"s":"T1","t":95,"v":26.5},{"s":"T1","t":97,"v":28.5},{"s":"T1","t":99,"v":30.0},{"s":"T1","t":100.5,"v":30.8},{"s":"T1","t":102,"v":31.2},{"s":"T1","t":104,"v":31.7},{"s":"T1","t":106,"v":30.5},{"s":"T1","t":108,"v":30.0},{"s":"T1","t":110,"v":31.0},{"s":"T1","t":112,"v":32.0},{"s":"T1","t":114,"v":30.5},{"s":"T1","t":116,"v":30.0},{"s":"T1","t":118,"v":31.3},{"s":"T1","t":120,"v":32.2},{"s":"T1","t":122,"v":32.0},{"s":"T1","t":124,"v":31.5},{"s":"T1","t":126,"v":30.5},{"s":"T1","t":128,"v":29.5},{"s":"T1","t":130,"v":28.9},{"s":"T1","t":132,"v":29.3},{"s":"T1","t":134,"v":29.7},{"s":"T1","t":136,"v":29.2},{"s":"T1","t":138,"v":28.9},{"s":"T1","t":140,"v":30.0},{"s":"T1","t":142,"v":30.8},{"s":"T1","t":144,"v":31.0},{"s":"T1","t":146,"v":31.3},{"s":"T1","t":148,"v":31.7},{"s":"T1","t":150,"v":31.2},{"s":"T1","t":152,"v":30.7},{"s":"T1","t":154,"v":30.3},{"s":"T1","t":157,"v":29.5},{"s":"T1","t":160,"v":28.9},{"s":"T1","t":163,"v":28.0},{"s":"T1","t":166,"v":27.0},{"s":"T1","t":169,"v":25.8},{"s":"T1","t":171,"v":25.0},{"s":"T1","t":173,"v":23.5},{"s":"T1","t":175,"v":21.8},{"s":"T1","t":177,"v":21.2},{"s":"T1","t":179,"v":21.3},{"s":"T1","t":181,"v":21.8},{"s":"T1","t":183,"v":24.0},{"s":"T1","t":185,"v":25.5},{"s":"T1","t":187,"v":26.7},{"s":"T1","t":189,"v":27.3},{"s":"T1","t":191,"v":28.0},{"s":"T1","t":193,"v":28.5},{"s":"T1","t":195,"v":29.5},{"s":"T1","t":196,"v":30.5},{"s":"T1","t":196.5,"v":28.4},{"s":"T1","t":197,"v":26},{"s":"T1","t":197.5,"v":22},{"s":"T1","t":198,"v":18},{"s":"T1","t":198.5,"v":15.8},{"s":"T1","t":199,"v":14.0},{"s":"T1","t":200,"v":12.0},{"s":"T1","t":201,"v":10.5},{"s":"T1","t":202,"v":9.0},{"s":"T1","t":203,"v":7.5},{"s":"T1","t":204,"v":6.5},{"s":"T1","t":205,"v":5.8},{"s":"T1","t":207,"v":4.8},{"s":"T1","t":209,"v":3.8},{"s":"T1","t":211,"v":3.0},{"s":"T1","t":213,"v":2.6},{"s":"T1","t":215,"v":3.2},{"s":"T1","t":217,"v":4.2},{"s":"T1","t":219,"v":5.0},{"s":"T1","t":221,"v":5.5},{"s":"T1","t":223,"v":6.0},{"s":"T1","t":225,"v":6.5},{"s":"T1","t":228,"v":7.0},{"s":"T1","t":231,"v":7.3},{"s":"T1","t":234,"v":7.5},{"s":"T1","t":237,"v":7.8},{"s":"T1","t":240,"v":8.0},{"s":"T1","t":243,"v":8.3},{"s":"T1","t":246,"v":8.0},{"s":"T1","t":249,"v":8.2},{"s":"T1","t":252,"v":8.5},{"s":"T1","t":255,"v":8.5},{"s":"T1","t":258,"v":8.8},{"s":"T1","t":261,"v":9.0},{"s":"T1","t":264,"v":9.3},{"s":"T1","t":267,"v":9.0},{"s":"T1","t":270,"v":9.5},{"s":"T1","t":273,"v":10.0},{"s":"T1","t":276,"v":10.3},{"s":"T1","t":279,"v":10.8},{"s":"T1","t":282,"v":11.3},{"s":"T1","t":285,"v":12.0},{"s":"T1","t":287,"v":13.0},{"s":"T1","t":289,"v":14.0},{"s":"T1","t":291,"v":15.0},{"s":"T1","t":293,"v":16.0},{"s":"T1","t":295,"v":16.7},{"s":"T1","t":297,"v":17.1},{"s":"T1","t":299,"v":17.3},{"s":"T1","t":302,"v":17.5},{"s":"T1","t":305,"v":17.4},{"s":"T1","t":308,"v":17.3},{"s":"T1","t":310,"v":17.0},{"s":"T1","t":312,"v":16.6},{"s":"T1","t":314,"v":16.1},{"s":"T1","t":316,"v":15.6},{"s":"T1","t":318,"v":15.2},{"s":"T1","t":320,"v":14.8},{"s":"T1","t":322,"v":14.6},{"s":"T1","t":324,"v":14.4},{"s":"T1","t":326,"v":14.4},{"s":"T1","t":328,"v":14.5},{"s":"T1","t":330,"v":14.6},{"s":"T1","t":333,"v":14.7}
]},
"layer":[
{"data":{"name":"iono"},
 "mark":{"type":"line","strokeWidth":5,"opacity":0.85,"strokeJoin":"round"},
 "encoding":{
  "x":{"field":"t","type":"quantitative","scale":{"domain":[0,350],"nice":false,"zero":false},
   "axis":{"values":[0,50,100,150,200,250,300,350],"title":"WAAS Time (minutes from 5:00 PM to 11:59 PM UT)","titleFont":"Liberation Serif","titleFontWeight":"bold","titleFontSize":21,"titleColor":"black","titlePadding":3,"titleX":524,"titleAlign":"center","labelFont":"Liberation Serif","labelFontWeight":"bold","labelFontSize":19,"labelColor":"black","labelPadding":8,"labelFlush":false,"labelOverlap":false,"ticks":false,"domainColor":"black","domainWidth":3,"grid":true,"gridColor":"black","gridDash":[1,2],"gridWidth":1,"gridOpacity":1}},
  "y":{"field":"v","type":"quantitative","scale":{"domain":[0,35],"nice":false},
   "axis":{"values":[0,5,10,15,20,25,30,35],"title":"Slant Iono Delay (m)","titleFont":"Liberation Serif","titleFontWeight":"normal","titleFontSize":21,"titleColor":"black","titleX":-54,"titleY":310,"titleAngle":-90,"titleAlign":"center","titleBaseline":"middle","labelFont":"Liberation Serif","labelFontWeight":"bold","labelFontSize":19,"labelColor":"black","labelPadding":9,"labelFlush":false,"labelOverlap":false,"ticks":false,"domainColor":"black","domainWidth":2,"grid":true,"gridColor":"black","gridDash":[1,2],"gridWidth":1,"gridOpacity":1}},
  "color":{"field":"s","type":"nominal","scale":{"domain":["K","D2","D1","T2","P","Y","T1"],"range":["#c6c6ac","#6e6e6e","#5c5c5c","#88a2a2","#6a4fe6","#ffc800","#7b9898"]},"legend":null}}},
{"data":{"name":"iono"},
 "mark":{"type":"point","filled":false,"size":50,"strokeWidth":1.4,"opacity":1},
 "encoding":{
  "x":{"field":"t","type":"quantitative"},
  "y":{"field":"v","type":"quantitative"},
  "color":{"field":"s","type":"nominal","legend":null},
  "shape":{"field":"s","type":"nominal","scale":{"domain":["K","D2","D1","T2","P","Y","T1"],"range":["circle","diamond","cross","square","circle","diamond","square"]},"legend":null}}},
{"data":{"values":[{"t":8.2,"t2":81.1,"v":22.17,"v2":28.51},{"t":241.8,"t2":329.2,"v":21.57,"v2":26.42},{"t":104.2,"t2":176.4,"v":5.66,"v2":12.07}]},
 "mark":{"type":"rect","color":"#ffffcc"},
 "encoding":{"x":{"field":"t","type":"quantitative"},"x2":{"field":"t2"},"y":{"field":"v","type":"quantitative"},"y2":{"field":"v2"}}},
{"data":{"values":[{"t":221.5,"t2":336.9,"v":30.56,"v2":34.06}]},
 "mark":{"type":"rect","color":"#ccff99"},
 "encoding":{"x":{"field":"t","type":"quantitative"},"x2":{"field":"t2"},"y":{"field":"v","type":"quantitative"},"y2":{"field":"v2"}}},
{"data":{"values":[{"t":44.6,"v":27.42,"txt":"Initial upward\ngrowth; slant\ngradients ≈ 60 –\n120 mm/km"},{"t":285.4,"v":25.41,"txt":"Sharp falling edge;\nslant gradients ≈\n250 – 330 mm/km"},{"t":140.3,"v":10.94,"txt":"“Valleys” with\nsmaller (but\nanomalous)\ngradients"}]},
 "mark":{"type":"text","font":"Liberation Sans","fontStyle":"italic","fontWeight":"bold","fontSize":22,"lineBreak":"\n","lineHeight":26.4,"align":"center","baseline":"middle","color":"black"},
 "encoding":{"x":{"field":"t","type":"quantitative"},"y":{"field":"v","type":"quantitative"},"text":{"field":"txt"}}},
{"data":{"values":[{"t":279.2,"v":33.04,"txt":"Data from 7 CORS stations\nin N. Ohio and S. Michigan"}]},
 "mark":{"type":"text","font":"Liberation Sans","fontWeight":"bold","fontSize":22,"lineBreak":"\n","lineHeight":28,"align":"center","baseline":"middle","color":"black"},
 "encoding":{"x":{"field":"t","type":"quantitative"},"y":{"field":"v","type":"quantitative"},"text":{"field":"txt"}}},
{"data":{"values":[{"t":61.6,"v":22.1,"t2":82.5,"v2":21.1},{"t":241.3,"v":23.05,"t2":208.5,"v2":21.85},{"t":104.6,"v":11.25,"t2":89,"v2":11.25},{"t":158.8,"v":12.67,"t2":172.8,"v2":19.2}]},
 "mark":{"type":"rule","color":"black","strokeWidth":2},
 "encoding":{"x":{"field":"t","type":"quantitative"},"y":{"field":"v","type":"quantitative"},"x2":{"field":"t2"},"y2":{"field":"v2"}}},
{"data":{"values":[{"t":104.6,"v":6.12,"t2":78.5,"v2":6.12}]},
 "mark":{"type":"rule","color":"#444444","strokeWidth":2},
 "encoding":{"x":{"field":"t","type":"quantitative"},"y":{"field":"v","type":"quantitative"},"x2":{"field":"t2"},"y2":{"field":"v2"}}},
{"data":{"values":[{"t":125.1,"v":12.4,"t2":125.1,"v2":17.5}]},
 "mark":{"type":"rule","color":"black","strokeWidth":4},
 "encoding":{"x":{"field":"t","type":"quantitative"},"y":{"field":"v","type":"quantitative"},"x2":{"field":"t2"},"y2":{"field":"v2"}}},
{"data":{"values":[{"t":83.5,"v":20.9}]},
 "mark":{"type":"point","shape":"triangle-up","filled":true,"color":"black","size":70,"angle":111,"opacity":1},
 "encoding":{"x":{"field":"t","type":"quantitative"},"y":{"field":"v","type":"quantitative"}}},
{"data":{"values":[{"t":207.3,"v":21.75}]},
 "mark":{"type":"point","shape":"triangle-up","filled":true,"color":"black","size":70,"angle":255,"opacity":1},
 "encoding":{"x":{"field":"t","type":"quantitative"},"y":{"field":"v","type":"quantitative"}}},
{"data":{"values":[{"t":87.8,"v":11.25},{"t":77.3,"v":6.12}]},
 "mark":{"type":"point","shape":"triangle-up","filled":true,"color":"black","size":70,"angle":270,"opacity":1},
 "encoding":{"x":{"field":"t","type":"quantitative"},"y":{"field":"v","type":"quantitative"}}},
{"data":{"values":[{"t":125.1,"v":17.9}]},
 "mark":{"type":"point","shape":"triangle-up","filled":true,"color":"black","size":80,"angle":0,"opacity":1},
 "encoding":{"x":{"field":"t","type":"quantitative"},"y":{"field":"v","type":"quantitative"}}},
{"data":{"values":[{"t":173.3,"v":19.5}]},
 "mark":{"type":"point","shape":"triangle-up","filled":true,"color":"black","size":70,"angle":17,"opacity":1},
 "encoding":{"x":{"field":"t","type":"quantitative"},"y":{"field":"v","type":"quantitative"}}}
]
}
